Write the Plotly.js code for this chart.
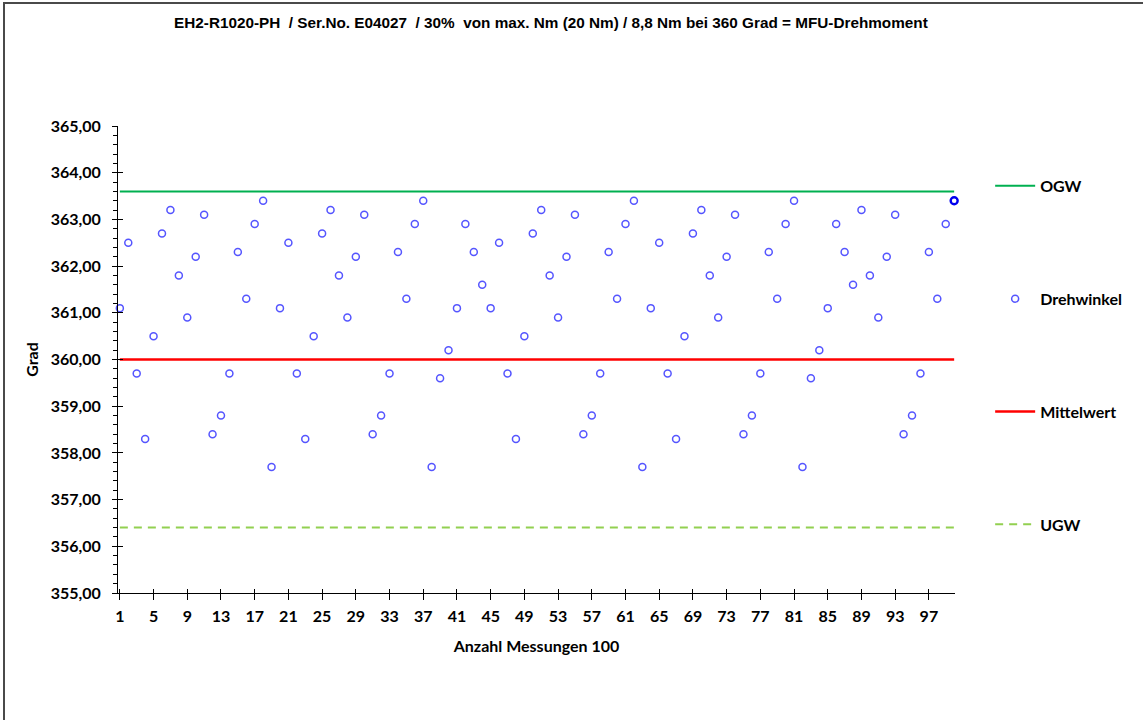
<!DOCTYPE html>
<html>
<head>
<meta charset="utf-8">
<script src="https://cdn.plot.ly/plotly-3.0.1.min.js"></script>
<style>
  html, body { margin: 0; padding: 0; background: #fff; }
  #wrap { position: relative; width: 1143px; height: 720px; }
  #chart { width: 1143px; height: 720px; }
  #frame { position: absolute; left: 3px; top: 2px; width: 1140px; height: 718px;
           border-top: 2px solid #4a4a4a; border-left: 2px solid #4a4a4a; pointer-events: none; }
</style>
</head>
<body>
<div id="wrap"><div id="chart"></div><div id="frame"></div></div>
<script>
// ---- data ----
const drehwinkel = [
  361.1, 362.5, 359.7, 358.3, 360.5, 362.7, 363.2, 361.8, 360.9, 362.2,
  363.1, 358.4, 358.8, 359.7, 362.3, 361.3, 362.9, 363.4, 357.7, 361.1,
  362.5, 359.7, 358.3, 360.5, 362.7, 363.2, 361.8, 360.9, 362.2, 363.1,
  358.4, 358.8, 359.7, 362.3, 361.3, 362.9, 363.4, 357.7, 359.6, 360.2,
  361.1, 362.9, 362.3, 361.6, 361.1, 362.5, 359.7, 358.3, 360.5, 362.7,
  363.2, 361.8, 360.9, 362.2, 363.1, 358.4, 358.8, 359.7, 362.3, 361.3,
  362.9, 363.4, 357.7, 361.1, 362.5, 359.7, 358.3, 360.5, 362.7, 363.2,
  361.8, 360.9, 362.2, 363.1, 358.4, 358.8, 359.7, 362.3, 361.3, 362.9,
  363.4, 357.7, 359.6, 360.2, 361.1, 362.9, 362.3, 361.6, 363.2, 361.8,
  360.9, 362.2, 363.1, 358.4, 358.8, 359.7, 362.3, 361.3, 362.9, 363.4
];
const messungen = drehwinkel.map((_, i) => i + 1);
const ogw = 363.6;
const mittelwert = 360.0;
const ugw = 356.4;
const xTickVals = [1,5,9,13,17,21,25,29,33,37,41,45,49,53,57,61,65,69,73,77,81,85,89,93,97];
const titleText = 'EH2-R1020-PH  / Ser.No. E04027  / 30%  von max. Nm (20 Nm) / 8,8 Nm bei 360 Grad = MFU-Drehmoment';

// ---- styling ----
const lblFont = { family: 'Lato, "Open Sans", sans-serif', size: 16, color: '#000', weight: 'bold' };
const last = messungen.length - 1;
const markerColors = messungen.map((_, i) => i === last ? '#0000ee' : '#5555ff');
const markerWidths = messungen.map((_, i) => i === last ? 2.4 : 1.5);
const xEnds = [messungen[0], messungen[last]];

const traces = [
  { x: xEnds, y: [ogw, ogw], type: 'scatter', mode: 'lines', name: 'OGW',
    line: { color: '#00b050', width: 2 }, legendgroup: 'g1', legendrank: 1, hoverinfo: 'skip' },
  { x: xEnds, y: [mittelwert, mittelwert], type: 'scatter', mode: 'lines', name: 'Mittelwert',
    line: { color: '#ff0000', width: 2.5 }, legendgroup: 'g3', legendrank: 3, hoverinfo: 'skip' },
  { x: xEnds, y: [ugw, ugw], type: 'scatter', mode: 'lines', name: 'UGW',
    line: { color: '#92d050', width: 2, dash: '8px,6px' }, legendgroup: 'g4', legendrank: 4, hoverinfo: 'skip' },
  { x: messungen, y: drehwinkel, type: 'scatter', mode: 'markers', name: 'Drehwinkel', cliponaxis: false,
    marker: { symbol: 'circle-open', size: 7, color: markerColors, line: { width: markerWidths } },
    legendgroup: 'g2', legendrank: 2 },
  // invisible helper trace so overlay axes draw crossing ticks
  { x: xEnds, y: [ugw, ugw], xaxis: 'x2', yaxis: 'y2', type: 'scatter', mode: 'lines',
    line: { width: 0 }, showlegend: false, hoverinfo: 'skip', opacity: 0 }
];

const xRange = [0.78, 100.1];
const yRange = [355, 365];

const layout = {
  width: 1143, height: 720,
  paper_bgcolor: '#fff', plot_bgcolor: '#fff',
  margin: { l: 118, r: 188, t: 126, b: 127 },
  separators: ',.',
  showlegend: true,
  title: { text: titleText, x: 0.482, xanchor: 'center', y: 0.968, yanchor: 'middle',
           font: { family: '"Liberation Sans Narrow", "Liberation Sans", Arial, sans-serif', size: 15.3, color: '#000', weight: 'bold' } },
  xaxis: {
    range: xRange, showgrid: false, zeroline: false,
    showline: true, linecolor: '#000', linewidth: 1,
    tickmode: 'array', tickvals: xTickVals, ticks: 'outside', ticklen: 6, tickcolor: '#000', tickwidth: 1,
    ticklabelstandoff: 3,
    tickfont: lblFont,
    title: { text: 'Anzahl Messungen 100', font: lblFont, standoff: 16 }
  },
  xaxis2: {
    range: xRange, overlaying: 'x', anchor: 'y', side: 'bottom', showgrid: false, zeroline: false,
    showline: false, tickmode: 'array', tickvals: xTickVals, ticks: 'inside', ticklen: 4,
    tickcolor: '#000', showticklabels: false
  },
  yaxis: {
    range: yRange, showgrid: false, zeroline: false,
    showline: true, linecolor: '#000', linewidth: 1,
    dtick: 1, tick0: 355, tickformat: '.2f', ticks: 'outside', ticklen: 5, tickcolor: '#000',
    ticklabelstandoff: 8,
    minor: { dtick: 0.2, ticks: 'outside', ticklen: 4, tickcolor: '#000', showgrid: false },
    tickfont: lblFont,
    title: { text: 'Grad', font: lblFont, standoff: 8 }
  },
  yaxis2: {
    range: yRange, overlaying: 'y', anchor: 'x', side: 'left', showgrid: false, zeroline: false,
    showline: false, dtick: 1, tick0: 355, ticks: 'inside', ticklen: 5, tickcolor: '#000',
    showticklabels: false
  },
  legend: {
    x: 1.042, xanchor: 'left', y: 0.908, yanchor: 'top',
    tracegroupgap: 89, itemwidth: 40, font: lblFont, bgcolor: 'rgba(0,0,0,0)'
  }
};

Plotly.newPlot('chart', traces, layout, { displayModeBar: false, staticPlot: true });
</script>
</body>
</html>
